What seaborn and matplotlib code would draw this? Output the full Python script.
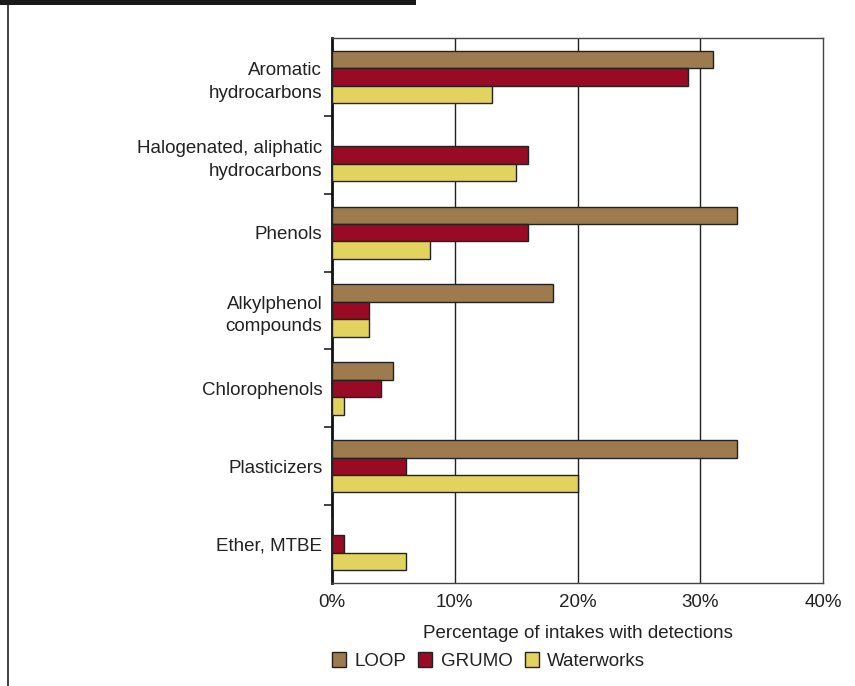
import pandas as pd
import seaborn as sns
import matplotlib.pyplot as plt
from matplotlib.patches import Rectangle
from matplotlib.lines import Line2D

# Data
categories = ['Aromatic\nhydrocarbons', 'Halogenated, aliphatic\nhydrocarbons', 'Phenols',
              'Alkylphenol\ncompounds', 'Chlorophenols', 'Plasticizers', 'Ether, MTBE']
loop = [31, 0, 33, 18, 5, 33, 0]
grumo = [29, 16, 16, 3, 4, 6, 1]
waterworks = [13, 15, 8, 3, 1, 20, 6]
series_names = ['LOOP', 'GRUMO', 'Waterworks']
colors = ['#9E7B4E', '#990A25', '#E2D35F']

df = pd.DataFrame({
    'category': categories * 3,
    'value': loop + grumo + waterworks,
    'source': [s for s in series_names for _ in categories],
})

sns.set_style('white')
plt.rcParams['font.family'] = ['Liberation Sans', 'DejaVu Sans']
txt = '#222222'
fs = 13.5

fig = plt.figure(figsize=(8.55, 6.86), dpi=100)
ax = fig.add_axes([0.3883, 0.150, 0.5743, 0.7946])

sns.barplot(data=df, y='category', x='value', hue='source', orient='h',
            order=categories, hue_order=series_names, palette=colors, saturation=1,
            width=0.67, edgecolor='#222222', linewidth=1, ax=ax, zorder=3)

ax.set_xlim(0, 40)
ax.set_ylim(len(categories) - 0.5, -0.5)
ax.set_xticks([0, 10, 20, 30, 40])
ax.set_xticklabels(['0%', '10%', '20%', '30%', '40%'], fontsize=fs, color=txt)
ax.tick_params(axis='x', length=0, pad=8)
ax.set_yticks(range(len(categories)))
ax.set_yticklabels(categories, fontsize=fs, color=txt, linespacing=1.45)
ax.tick_params(axis='y', which='major', length=0, pad=7)
ax.set_yticks([i + 0.5 for i in range(len(categories) - 1)], minor=True)
ax.tick_params(axis='y', which='minor', length=6, width=1.2, color='#222222', left=True)

for v in [10, 20, 30]:
    ax.axvline(v, color='#222222', lw=1, zorder=1)

ax.set_xlabel('Percentage of intakes with detections', fontsize=fs, color=txt, labelpad=10)
ax.set_ylabel('')

for side in ['top', 'right', 'bottom']:
    ax.spines[side].set_visible(True)
    ax.spines[side].set_color('#444444')
    ax.spines[side].set_linewidth(1)
ax.spines['left'].set_color('#111111')
ax.spines['left'].set_linewidth(2)

ax.legend_.remove()
handles = [Rectangle((0, 0), 1, 1, facecolor=c, edgecolor='#222222', lw=1) for c in colors]
fig.legend(handles, series_names, loc='center left', bbox_to_anchor=(0.388, 0.036),
           ncol=3, frameon=False, fontsize=fs, handlelength=0.75, handleheight=0.8,
           handletextpad=0.45, columnspacing=0.65, labelcolor=txt, borderaxespad=0,
           borderpad=0)

# page frame: dark banner and left rule
fig.patches.append(Rectangle((0, 0.993), 0.487, 0.007, transform=fig.transFigure,
                             facecolor='#1a1a1a', edgecolor='none'))
fig.lines.append(Line2D([0.009, 0.009], [0, 0.993], transform=fig.transFigure,
                        color='#222222', lw=1.2))

fig.savefig('out.png', dpi=100)
